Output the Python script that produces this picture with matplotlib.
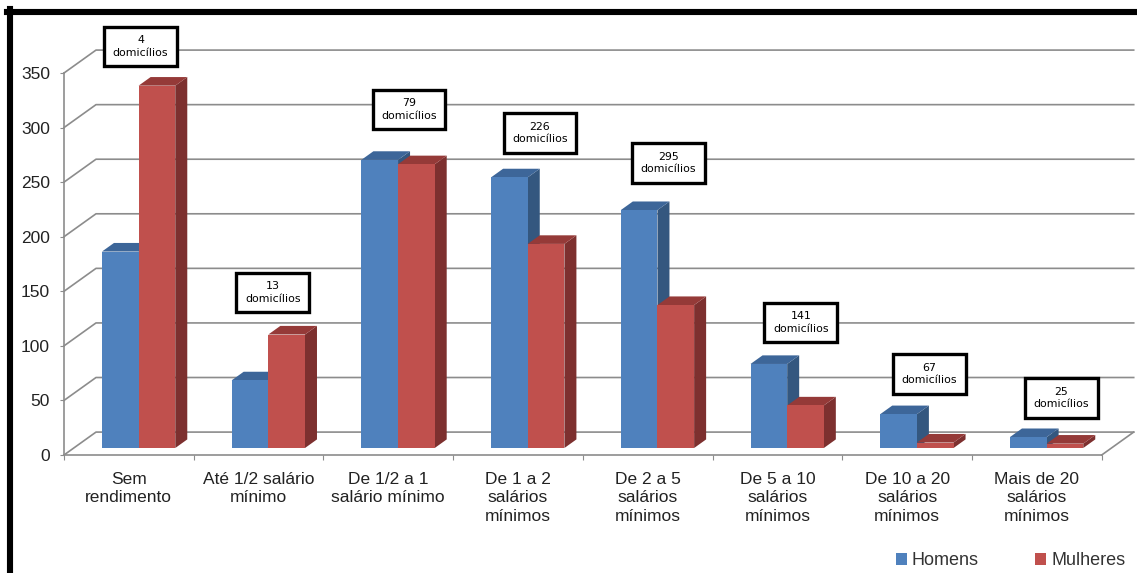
import matplotlib
matplotlib.use("Agg")
import matplotlib.pyplot as plt
from matplotlib.patches import Patch
from matplotlib.lines import Line2D

plt.rcParams["font.family"] = ["Liberation Sans", "DejaVu Sans"]

# ---- data ----
categories = ["Sem\nrendimento", "Até 1/2 salário\nmínimo", "De 1/2 a 1\nsalário mínimo",
              "De 1 a 2\nsalários\nmínimos", "De 2 a 5\nsalários\nmínimos",
              "De 5 a 10\nsalários\nmínimos", "De 10 a 20\nsalários\nmínimos",
              "Mais de 20\nsalários\nmínimos"]
homens = [180, 62, 264, 248, 218, 77, 31, 10]
mulheres = [332, 104, 260, 187, 131, 39, 5, 4]
domicilios = [4, 13, 79, 226, 295, 141, 67, 25]
series_names = ["Homens", "Mulheres"]
yticks = [0, 50, 100, 150, 200, 250, 300, 350]

# ---- style / layout ----
W_PX, H_PX, DPI = 1137, 573, 100
front_cols = ["#4F81BD", "#C0504D"]
top_cols = ["#3D6699", "#953A38"]
side_cols = ["#34577F", "#7D302F"]
grid_col = "#8C8C8C"
DX, DY = 0.2467, 21.0          # depth vector (category units, value units)
D0, D1 = 0.305, 0.68           # bar depth range (fraction of full depth)
BW = 0.2826                    # bar width in category units
label_dx = [0.09, 0.11, 0.16, 0.17, 0.16, 0.18, 0.17, 0.19]   # box offsets (layout)
label_gap = [36, 38.5, 46, 40.5, 43, 38, 37, 36]

fig = plt.figure(figsize=(W_PX / DPI, H_PX / DPI), dpi=DPI)
ax = fig.add_axes([64 / W_PX, (H_PX - 455) / H_PX, 1037.7 / W_PX, 382 / H_PX])
n = len(categories)
ax.set_xlim(0, n)
ax.set_ylim(0, yticks[-1])
ax.patch.set_visible(False)


def P(x, v, d):
    return x + d * DX, v + d * DY


def poly(pts, color, z):
    xs = [p[0] for p in pts]
    ys = [p[1] for p in pts]
    ax.fill(xs, ys, color=color, lw=0, zorder=z, clip_on=False)


# walls / gridlines
for v in yticks:
    x0, y0 = P(0, v, 0)
    x1, y1 = P(0, v, 1)
    x2, y2 = P(n, v, 1)
    ax.plot([x0, x1, x2], [y0, y1, y2], color=grid_col, lw=1.2, zorder=1, clip_on=False)
fx0, fy0 = P(n, 0, 0)
fx1, fy1 = P(n, 0, 1)
ax.plot([fx0, fx1], [fy0, fy1], color=grid_col, lw=1.2, zorder=1, clip_on=False)


def bar3d(x0, h, k, z):
    f = [P(x0, 0, D0), P(x0 + BW, 0, D0), P(x0 + BW, h, D0), P(x0, h, D0)]
    t = [P(x0, h, D0), P(x0 + BW, h, D0), P(x0 + BW, h, D1), P(x0, h, D1)]
    s = [P(x0 + BW, 0, D0), P(x0 + BW, 0, D1), P(x0 + BW, h, D1), P(x0 + BW, h, D0)]
    poly(s, side_cols[k], z)
    poly(t, top_cols[k], z)
    poly(f, front_cols[k], z)


for i in range(n):
    c = i + 0.5
    bar3d(c - BW, homens[i], 0, 3 + 2 * i)
    bar3d(c, mulheres[i], 1, 4 + 2 * i)
    top = max(homens[i], mulheres[i]) + D0 * DY + label_gap[i]
    ax.text(c + label_dx[i], top, f"{domicilios[i]}\ndomicílios", ha="center", va="center",
            fontsize=7.9, family="DejaVu Sans", color="black", linespacing=1.3,
            zorder=30, clip_on=False,
            bbox=dict(boxstyle="square,pad=0.78", fc="white", ec="black", lw=2.4))

# axes decoration
for sp in ["top", "right"]:
    ax.spines[sp].set_visible(False)
for sp in ["left", "bottom"]:
    ax.spines[sp].set_color(grid_col)
    ax.spines[sp].set_linewidth(1.2)
ax.set_yticks(yticks)
ax.set_yticklabels([str(v) for v in yticks])
ax.tick_params(axis="y", direction="out", length=3, color=grid_col, pad=7,
               labelsize=12.5, labelcolor="#222222")
ax.set_xticks(range(n + 1))
ax.set_xticklabels([])
ax.tick_params(axis="x", which="major", direction="out", length=3.5, color=grid_col)
ax.set_xticks([i + 0.5 for i in range(n)], minor=True)
ax.set_xticklabels(categories, minor=True)
ax.tick_params(axis="x", which="minor", length=0, pad=12, labelsize=12.5,
               labelcolor="#222222")
for lab in ax.get_xticklabels(minor=True):
    lab.set_linespacing(1.3)

# legend
handles = [Patch(facecolor=front_cols[k], edgecolor="none") for k in range(2)]
fig.legend(handles, series_names, loc="lower right", bbox_to_anchor=(1.004, -0.022),
           ncol=2, frameon=False, fontsize=13, handlelength=0.6, handleheight=0.65,
           handletextpad=0.3, columnspacing=3.1, labelcolor="#333333")

# black frame (left and top)
fig.add_artist(Line2D([9.7 / W_PX, 9.7 / W_PX], [0, 1 - 11.7 / H_PX + 3 / H_PX],
                      transform=fig.transFigure, color="black", lw=4.4))
fig.add_artist(Line2D([6.7 / W_PX, 1], [1 - 11.7 / H_PX, 1 - 11.7 / H_PX],
                      transform=fig.transFigure, color="black", lw=4.4))

fig.savefig("out.png", dpi=DPI)
